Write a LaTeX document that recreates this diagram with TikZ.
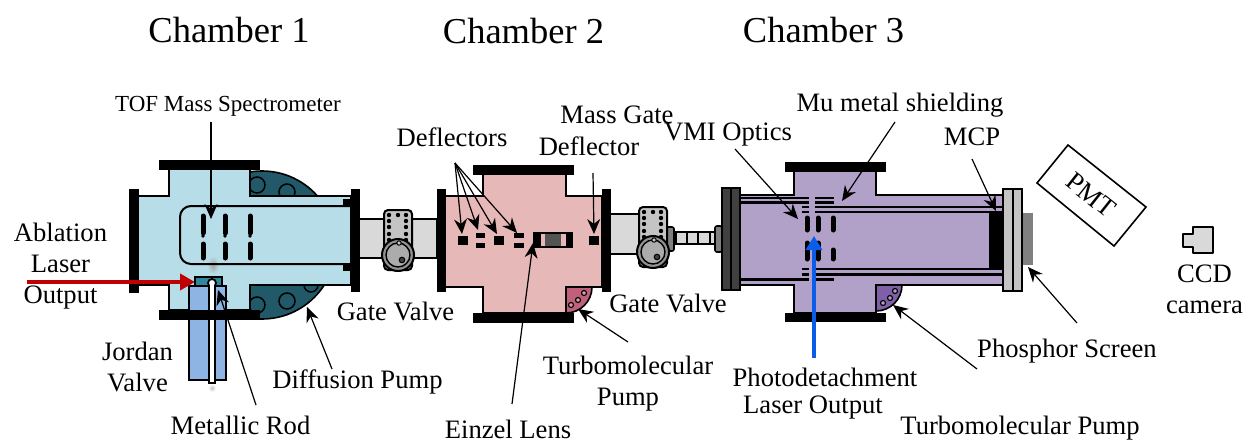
\documentclass[tikz,border=0pt]{standalone}
\usepackage{fontspec}
\setmainfont{Liberation Serif}
\usetikzlibrary{arrows.meta}
\definecolor{ChOne}{HTML}{B7DDE8}
\definecolor{ChTwo}{HTML}{E6B8B7}
\definecolor{ChThree}{HTML}{B1A0C7}
\definecolor{PumpTeal}{HTML}{215968}
\definecolor{SrcTeal}{HTML}{31859C}
\definecolor{ValveBlue}{HTML}{8EB4E3}
\definecolor{TurboRose}{HTML}{C0607A}
\definecolor{TurboPurple}{HTML}{7F5FA8}
\definecolor{PipeGrey}{HTML}{D9D9D9}
\definecolor{ValveGrey}{HTML}{C4C4C4}
\definecolor{DarkFlange}{HTML}{404040}
\definecolor{LaserRed}{HTML}{C00000}
\definecolor{LaserBlue}{HTML}{0B5CE8}
\tikzset{
  x=1pt,y=-1pt,
  lbl/.style={inner sep=0pt,align=center,font=\fontsize{26.6}{31}\selectfont,text=black},
  toflbl/.style={inner sep=0pt,font=\fontsize{23}{31}\selectfont,text=black},
  chamberlbl/.style={inner sep=0pt,font=\fontsize{36.5}{40}\selectfont},
  wall/.style={draw=black,line width=2.2pt,line join=miter},
  flange/.style={fill=black,draw=black,line width=.5pt},
  pointer/.style={draw=black,line width=1.2pt,-{Stealth[length=15pt,width=13pt]}},
  plate/.style={line width=5pt,line cap=round,draw=black},
  shield/.style={line width=2.2pt,draw=black},
  hole/.style={draw=black,line width=1.5pt},
}
\newcommand{\gatevalve}[2]{%
  \begin{scope}[shift={(#1,#2)}]
    \draw[fill=ValveGrey,line width=2pt,rounded corners=4pt] (-14,-30) rectangle (14,30);
    \foreach \dx/\dy in {-9/-25,0/-25,8/-25,-9/-19,8/-19,-9/-13,8/-13,-9/-6,8/-6,-9/0,8/0}
      \fill (\dx,\dy) circle (2.2);
    \draw[fill=gray!85,line width=2pt] (0,15) circle (16);
    \draw[fill=gray!65,line width=1.4pt] (0,15) circle (12);
    \draw[fill=ValveGrey,line width=1pt] (1,3) circle (2.2);
    \draw[fill=DarkFlange,line width=1pt] (4,20) circle (2.8);
  \end{scope}}
\begin{document}
\begin{tikzpicture}
\useasboundingbox (0,0) rectangle (1248,442);
\fill[white] (0,0) rectangle (1248,442);

% ---------- Chamber 1
\begin{scope}
  \clip (250,160) rectangle (340,330);
  \draw[fill=PumpTeal,line width=1.6pt] (262,245) circle (74);
  \draw[hole] (257,185) circle (8) (287,192) circle (8) (257,305) circle (8) (287,301) circle (8) (311,285) circle (7);
\end{scope}
\draw[fill=PipeGrey,line width=2.2pt] (359,219) rectangle (437,258);
\draw[wall,fill=ChOne] (138,196) -- (169,196) -- (169,169) -- (250,169) -- (250,196) -- (351,196) -- (351,285) -- (250,285) -- (250,310) -- (169,310) -- (169,285) -- (138,285) -- cycle;
\shade[inner color=gray!70,outer color=ChOne,draw=none] (213,265) ellipse (6 and 9);
\draw[line width=2pt,rounded corners=11pt] (351,206) -- (180,206) -- (180,264) -- (351,264);
\fill (343,199) rectangle (351,206);
\fill (343,264) rectangle (351,271);
\foreach \px in {203,225,250}{
  \draw[plate] (\px,216) -- (\px,233);
  \fill (\px,236) circle (1.8);
  \draw[plate] (\px,244) -- (\px,258);
}
\draw[fill=SrcTeal,line width=1.6pt] (195,277) rectangle (222,286);
\draw[fill=ValveBlue,line width=2.2pt] (189,286) rectangle (226,380);
\draw[fill=white,line width=1.6pt] (209,283) rectangle (215,383);
\draw[fill=white,line width=1.8pt] (212,283) circle (4);
\fill[white] (210,284) rectangle (214,292);
\fill[flange] (159,160) rectangle (259,169);
\fill[flange] (159,310) rectangle (259,319);
\fill[flange] (129,189) rectangle (138,292);
\fill[flange] (351,189) rectangle (359,291);
\shade[inner color=gray!45,outer color=white,draw=none] (212,388) ellipse (4 and 4);

% ---------- Valve 1
\gatevalve{398}{240}

% ---------- Chamber 2
\draw[fill=PipeGrey,line width=2.2pt] (610,214) rectangle (640,254);
\draw[fill=TurboRose,line width=1.6pt] (566,287) -- (592,287) arc[start angle=0,end angle=90,radius=26] -- cycle;
\draw[line width=1.2pt,fill=TurboRose!60] (571,305) circle (2.5) (578,300) circle (2.5) (584,293) circle (2.5);
\draw[wall,fill=ChTwo] (445,196) -- (483,196) -- (483,174) -- (566,174) -- (566,196) -- (602,196) -- (602,287) -- (566,287) -- (566,313) -- (483,313) -- (483,287) -- (445,287) -- cycle;
\fill[flange] (473,165) rectangle (573,174);
\fill[flange] (473,313) rectangle (573,322);
\fill[flange] (437,189) rectangle (445,291);
\fill[flange] (602,189) rectangle (610,291);
\fill (458,236) rectangle (468,245);
\fill (476,233) rectangle (485,238);
\fill (476,243) rectangle (485,248);
\fill (494,236) rectangle (504,245);
\fill (514,233) rectangle (524,238);
\fill (514,243) rectangle (524,248);
\fill (589,236) rectangle (599,245);
\fill (533,232) rectangle (573,248);
\fill[ChTwo] (541,234) rectangle (566,246);
\fill[DarkFlange!90] (545,234) rectangle (561,246);

% ---------- Valve 2 and bellows
\draw[fill=gray,line width=1.6pt,rounded corners=2pt] (660,227) rectangle (674,251);
\gatevalve{653}{237}
\draw[fill=PipeGrey,line width=2.2pt] (674,232) rectangle (715,244);
\foreach \bx in {676,687,698,710} \draw[line width=2.4pt] (\bx,232) -- (\bx,244);
\draw[fill=gray,line width=1.6pt,rounded corners=2pt] (715,226) rectangle (722,252);
\draw[fill=DarkFlange,line width=1.6pt] (722,188) rectangle (731,290);
\draw[fill=DarkFlange,line width=1.6pt] (731,188) rectangle (740,290);

% ---------- Chamber 3
\draw[fill=TurboPurple,line width=1.6pt] (876,285) -- (902,285) arc[start angle=0,end angle=90,radius=26] -- cycle;
\draw[line width=1.2pt,fill=TurboPurple!60] (883,303) circle (2.5) (890,298) circle (2.5) (895,291) circle (2.5);
\draw[wall,fill=ChThree] (740,195) -- (794,195) -- (794,171) -- (876,171) -- (876,195) -- (1003,195) -- (1003,285) -- (876,285) -- (876,313) -- (794,313) -- (794,285) -- (740,285) -- cycle;
\fill[flange] (785,162) rectangle (885,171);
\fill[flange] (785,313) rectangle (885,321);
\draw[shield] (740,198) -- (834,198) (740,202.5) -- (834,202.5);
\draw[shield] (802,207) -- (1003,207) (802,212) -- (1003,212);
\draw[shield] (802,269) -- (1003,269) (802,274.5) -- (1003,274.5);
\draw[shield] (740,279.5) -- (834,279.5);
\fill[ChThree] (809,196.8) rectangle (815,213.2);
\fill[ChThree] (809,267.8) rectangle (815,285.5);
\foreach \px/\ya/\yb/\yc/\yd in {807/218/230/243/259,818/218/230/243/259,833/218/230/250/259}{
  \draw[plate] (\px,\ya) -- (\px,\yb);
  \draw[plate] (\px,\yc) -- (\px,\yd);
}
\fill (989,212) rectangle (1002,268);
\draw[fill=ValveGrey,line width=1.6pt] (1003,189) rectangle (1013,291);
\draw[fill=ValveGrey,line width=1.6pt] (1013,189) rectangle (1022,291);
\fill[gray] (1023,213) rectangle (1033,265);

% ---------- PMT and camera
\draw[line width=1.6pt,fill=white] (1068,145) -- (1146,207) -- (1114,246) -- (1037,183) -- cycle;
\node[lbl,rotate=-38.5] (pmt) at (1091,195) {PMT};
\draw[fill=PipeGrey,line width=1.6pt,line join=round] (1193,227) -- (1213,227) -- (1213,253) -- (1193,253) -- (1193,247) -- (1183,247) -- (1183,234) -- (1193,234) -- cycle;

% ---------- Laser beams
\coordinate (redA) at (27,282);
\coordinate (redB) at (195,282);
\coordinate (blueA) at (814,358);
\coordinate (blueB) at (814,236);
\draw[draw=LaserRed,line width=4pt,-{Triangle[length=15pt,width=16pt]}] (redA) -- (redB);
\draw[draw=LaserBlue,line width=4pt,-{Triangle[length=14pt,width=16pt]}] (blueA) -- (blueB);

% ---------- Labels
\node[chamberlbl] (c1) at (229,30) {Chamber 1};
\node[chamberlbl] (c2) at (523.5,31) {Chamber 2};
\node[chamberlbl] (c3) at (823.5,30) {Chamber 3};
\node[toflbl] (tof) at (228,106) {TOF Mass Spectrometer};
\node[lbl] (defl) at (452,137) {Deflectors};
\node[lbl] (mgd) at (617,115) {Mass Gate};
\node[lbl] (mgdb) at (589,146) {Deflector};
\node[lbl] (vmi) at (728,135) {VMI Optics};
\node[lbl] (mu) at (900,105) {Mu metal shielding};
\node[lbl] (mcp) at (972,137) {MCP};
\node[lbl] (abl) at (60.5,266.5) {Ablation\\Laser\\Output};
\node[lbl] (gv1) at (395.5,311) {Gate Valve};
\node[lbl] (gv2) at (668,303) {Gate Valve};
\node[lbl] (diff) at (357.5,382) {Diffusion Pump};
\node[lbl] (jv) at (137.5,366.5) {Jordan\\Valve};
\node[lbl] (rod) at (240.5,425) {Metallic Rod};
\node[lbl] (einzel) at (508,429.5) {Einzel Lens};
\node[lbl] (tp2) at (628,384) {Turbomolecular\\Pump};
\node[lbl] (pd) at (825,377) {Photodetachment};
\node[lbl] (pdb) at (813,408) {Laser Output};
\node[lbl] (tp3) at (1020,428) {Turbomolecular Pump};
\node[lbl] (phos) at (1067,351) {Phosphor Screen};
\node[lbl] (ccd) at (1204.5,289) {CCD\\camera};

% ---------- Pointers
\coordinate (tofS) at (211,122);    \coordinate (tofE) at (211,219);
\coordinate (defS) at (455,163);
\coordinate (defA) at (462,234);    \coordinate (defB) at (478,230);
\coordinate (defC) at (497,234);    \coordinate (defD) at (517,233);
\coordinate (mgS) at (593,173);     \coordinate (mgE) at (594,234);
\coordinate (einS) at (512,404);    \coordinate (einE) at (533,243);
\coordinate (rodS) at (256,405);    \coordinate (rodE) at (218,290);
\coordinate (difS) at (332,369);    \coordinate (difE) at (307,307);
\coordinate (t2S) at (628,342);     \coordinate (t2E) at (578,309);
\coordinate (vmiS) at (735,149);    \coordinate (vmiE) at (798,219);
\coordinate (muS) at (895,122);     \coordinate (muE) at (842,201);
\coordinate (mcpS) at (972,159);    \coordinate (mcpE) at (996,211);
\coordinate (phS) at (1077,323);    \coordinate (phE) at (1028,267);
\coordinate (t3S) at (977,369);     \coordinate (t3E) at (893,305);
\draw[pointer] (tofS) -- (tofE);
\draw[pointer] (defS) -- (defA);
\draw[pointer] (defS) -- (defB);
\draw[pointer] (defS) -- (defC);
\draw[pointer] (defS) -- (defD);
\draw[pointer] (mgS) -- (mgE);
\draw[pointer] (einS) -- (einE);
\draw[pointer] (rodS) -- (rodE);
\draw[pointer] (difS) -- (difE);
\draw[pointer] (t2S) -- (t2E);
\draw[pointer] (vmiS) -- (vmiE);
\draw[pointer] (muS) -- (muE);
\draw[pointer] (mcpS) -- (mcpE);
\draw[pointer] (phS) -- (phE);
\draw[pointer] (t3S) -- (t3E);
\end{tikzpicture}
\end{document}
